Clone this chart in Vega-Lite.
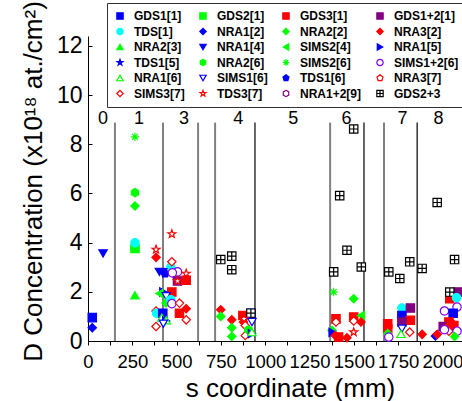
{
  "$schema": "https://vega.github.io/schema/vega-lite/v6.json",
  "width": 374,
  "height": 305,
  "autosize": "none",
  "padding": {"left": 88, "top": 36, "right": 0, "bottom": 60},
  "config": {
    "view": {"stroke": null},
    "font": "Liberation Sans",
    "axis": {"grid": false, "domainColor": "black", "tickColor": "black", "labelColor": "black", "titleColor": "black", "labelFont": "Liberation Sans", "titleFont": "Liberation Sans", "titleFontWeight": "normal"}
  },
  "encoding": {
    "x": {
      "field": "s", "type": "quantitative",
      "scale": {"domain": [0, 2110], "nice": false, "zero": false},
      "axis": {
        "title": "s coordinate (mm)", "titleFontSize": 26, "titleX": 202, "titleY": 47, "titleBaseline": "middle",
        "values": [0,125,250,375,500,625,750,875,1000,1125,1250,1375,1500,1625,1750,1875,2000],
        "labelExpr": "datum.value % 250 === 0 ? datum.label : ''",
        "format": "d", "labelFontSize": 18.5, "labelPadding": 7, "tickSize": 4, "labelFlush": false, "labelOverlap": false
      }
    }
  },
  "layer": [
    {
      "data": {"values": [
        {"s": 152, "k": "g"}, {"s": 423, "k": "g"}, {"s": 621, "k": "g"}, {"s": 717, "k": "g"},
        {"s": 942, "k": "b"}, {"s": 1366, "k": "g"}, {"s": 1557, "k": "b"}, {"s": 1670, "k": "g"}, {"s": 1857, "k": "b"}
      ]},
      "mark": {"type": "rule"},
      "encoding": {
        "y": {"datum": 0, "type": "quantitative"},
        "y2": {"datum": 8.88},
        "color": {"field": "k", "type": "nominal", "scale": {"domain": ["g", "b"], "range": ["#808080", "#000000"]}, "legend": null},
        "strokeWidth": {"field": "k", "type": "nominal", "scale": {"domain": ["g", "b"], "range": [2, 1.2]}, "legend": null}
      }
    },
    {
      "data": {"values": [
        {"z": "0", "s": 85}, {"z": "1", "s": 288}, {"z": "3", "s": 542}, {"z": "4", "s": 847},
        {"z": "5", "s": 1158}, {"z": "6", "s": 1458}, {"z": "7", "s": 1774}, {"z": "8", "s": 1977}
      ]},
      "mark": {"type": "text", "fontSize": 18, "font": "Liberation Sans", "color": "black", "baseline": "middle", "align": "center"},
      "encoding": {
        "y": {"datum": 9.04, "type": "quantitative"},
        "text": {"field": "z"}
      }
    },
    {
      "data": {"values": [
        {"s": 24, "D": 0.95, "series": "GDS1[1]"},
        {"s": 24, "D": 0.54, "series": "NRA1[2]"},
        {"s": 85, "D": 3.56, "series": "NRA1[4]"},
        {"s": 265, "D": 8.3, "series": "SIMS2[6]"},
        {"s": 265, "D": 6.03, "series": "NRA2[6]"},
        {"s": 265, "D": 5.49, "series": "NRA2[2]"},
        {"s": 265, "D": 3.76, "series": "GDS2[1]"},
        {"s": 265, "D": 3.99, "series": "TDS[1]"},
        {"s": 265, "D": 1.86, "series": "NRA2[3]"},
        {"s": 384, "D": 3.72, "series": "TDS3[7]"},
        {"s": 384, "D": 3.40, "series": "NRA3[2]"},
        {"s": 473, "D": 4.35, "series": "TDS3[7]"},
        {"s": 467, "D": 3.0, "series": "TDS[1]"},
        {"s": 473, "D": 3.22, "series": "SIMS3[7]"},
        {"s": 403, "D": 2.81, "series": "NRA1[4]"},
        {"s": 422, "D": 2.8, "series": "NRA1[4]"},
        {"s": 435, "D": 2.74, "series": "TDS1[6]"},
        {"s": 505, "D": 2.81, "series": "SIMS1+2[6]"},
        {"s": 476, "D": 2.77, "series": "SIMS1+2[6]"},
        {"s": 554, "D": 2.74, "series": "TDS3[7]"},
        {"s": 505, "D": 2.44, "series": "GDS1+2[1]"},
        {"s": 505, "D": 2.44, "series": "TDS3[7]"},
        {"s": 554, "D": 2.47, "series": "GDS3[1]"},
        {"s": 473, "D": 1.99, "series": "GDS3[1]"},
        {"s": 425, "D": 1.99, "series": "NRA1[5]"},
        {"s": 403, "D": 1.93, "series": "SIMS2[4]"},
        {"s": 441, "D": 1.82, "series": "SIMS1[6]"},
        {"s": 440, "D": 1.55, "series": "NRA2[2]"},
        {"s": 467, "D": 1.68, "series": "TDS[1]"},
        {"s": 473, "D": 1.52, "series": "SIMS1+2[6]"},
        {"s": 516, "D": 1.54, "series": "SIMS3[7]"},
        {"s": 554, "D": 1.31, "series": "NRA3[2]"},
        {"s": 516, "D": 1.13, "series": "GDS3[1]"},
        {"s": 384, "D": 1.22, "series": "SIMS3[7]"},
        {"s": 387, "D": 1.13, "series": "TDS[1]"},
        {"s": 422, "D": 1.13, "series": "GDS1[1]"},
        {"s": 416, "D": 0.95, "series": "NRA1[6]"},
        {"s": 441, "D": 0.81, "series": "NRA1[5]"},
        {"s": 441, "D": 0.84, "series": "NRA1[6]"},
        {"s": 554, "D": 0.86, "series": "SIMS3[7]"},
        {"s": 384, "D": 0.59, "series": "SIMS3[7]"},
        {"s": 425, "D": 0.7, "series": "SIMS1[6]"},
        {"s": 749, "D": 3.31, "series": "GDS2+3"},
        {"s": 811, "D": 3.45, "series": "GDS2+3"},
        {"s": 811, "D": 2.9, "series": "GDS2+3"},
        {"s": 749, "D": 1.27, "series": "NRA3[2]"},
        {"s": 749, "D": 1.0, "series": "NRA2[2]"},
        {"s": 811, "D": 0.86, "series": "NRA3[2]"},
        {"s": 811, "D": 0.54, "series": "NRA2[2]"},
        {"s": 811, "D": 0.18, "series": "NRA2[2]"},
        {"s": 874, "D": 1.04, "series": "GDS3[1]"},
        {"s": 919, "D": 1.13, "series": "GDS1[1]"},
        {"s": 919, "D": 1.13, "series": "GDS2+3"},
        {"s": 877, "D": 0.77, "series": "NRA3[2]"},
        {"s": 880, "D": 0.9, "series": "TDS3[7]"},
        {"s": 887, "D": 0.63, "series": "SIMS3[7]"},
        {"s": 887, "D": 0.22, "series": "SIMS3[7]"},
        {"s": 925, "D": 0.77, "series": "SIMS1[6]"},
        {"s": 905, "D": 0.45, "series": "NRA2[6]"},
        {"s": 925, "D": 0.3, "series": "NRA1[5]"},
        {"s": 925, "D": 0.36, "series": "NRA1[6]"},
        {"s": 1386, "D": 2.81, "series": "GDS2+3"},
        {"s": 1420, "D": 5.91, "series": "GDS2+3"},
        {"s": 1461, "D": 3.69, "series": "GDS2+3"},
        {"s": 1499, "D": 8.62, "series": "GDS2+3"},
        {"s": 1542, "D": 3.01, "series": "GDS2+3"},
        {"s": 1386, "D": 1.99, "series": "SIMS2[6]"},
        {"s": 1499, "D": 1.72, "series": "NRA2[2]"},
        {"s": 1399, "D": 0.9, "series": "GDS3[1]"},
        {"s": 1399, "D": 0.77, "series": "SIMS3[7]"},
        {"s": 1499, "D": 0.97, "series": "GDS3[1]"},
        {"s": 1499, "D": 0.81, "series": "SIMS3[7]"},
        {"s": 1540, "D": 1.04, "series": "SIMS2[4]"},
        {"s": 1540, "D": 0.77, "series": "NRA3[2]"},
        {"s": 1499, "D": 0.36, "series": "TDS3[7]"},
        {"s": 1377, "D": 0.43, "series": "NRA2[2]"},
        {"s": 1380, "D": 0.35, "series": "NRA1[5]"},
        {"s": 1395, "D": 0.22, "series": "NRA3[2]"},
        {"s": 1414, "D": 0.16, "series": "GDS3[1]"},
        {"s": 1461, "D": 0.13, "series": "NRA3[2]"},
        {"s": 1697, "D": 2.81, "series": "GDS2+3"},
        {"s": 1759, "D": 2.54, "series": "GDS2+3"},
        {"s": 1815, "D": 3.22, "series": "GDS2+3"},
        {"s": 1885, "D": 2.95, "series": "GDS2+3"},
        {"s": 1771, "D": 1.34, "series": "TDS[1]"},
        {"s": 1819, "D": 1.34, "series": "GDS1+2[1]"},
        {"s": 1771, "D": 1.04, "series": "GDS1[1]"},
        {"s": 1771, "D": 0.9, "series": "TDS1[5]"},
        {"s": 1819, "D": 0.84, "series": "GDS3[1]"},
        {"s": 1771, "D": 0.77, "series": "GDS1+2[1]"},
        {"s": 1691, "D": 0.7, "series": "GDS3[1]"},
        {"s": 1691, "D": 0.5, "series": "GDS3[1]"},
        {"s": 1691, "D": 0.3, "series": "NRA2[2]"},
        {"s": 1697, "D": 0.16, "series": "SIMS1+2[6]"},
        {"s": 1771, "D": 0.5, "series": "SIMS1[6]"},
        {"s": 1766, "D": 0.29, "series": "NRA1[6]"},
        {"s": 1815, "D": 0.36, "series": "SIMS3[7]"},
        {"s": 1885, "D": 0.27, "series": "NRA3[2]"},
        {"s": 1960, "D": 0.2, "series": "NRA1[2]"},
        {"s": 1970, "D": 0.27, "series": "NRA3[2]"},
        {"s": 1970, "D": 5.63, "series": "GDS2+3"},
        {"s": 2068, "D": 3.31, "series": "GDS2+3"},
        {"s": 2087, "D": 1.99, "series": "GDS1+2[1]"},
        {"s": 2041, "D": 1.72, "series": "GDS3[1]"},
        {"s": 2041, "D": 1.99, "series": "GDS2+3"},
        {"s": 2079, "D": 1.76, "series": "TDS[1]"},
        {"s": 2082, "D": 1.38, "series": "SIMS1+2[6]"},
        {"s": 2011, "D": 1.22, "series": "SIMS1+2[6]"},
        {"s": 2060, "D": 1.13, "series": "GDS1[1]"},
        {"s": 2036, "D": 0.77, "series": "GDS3[1]"},
        {"s": 2060, "D": 0.7, "series": "NRA3[2]"},
        {"s": 2064, "D": 0.63, "series": "GDS3[1]"},
        {"s": 2004, "D": 0.59, "series": "GDS1+2[1]"},
        {"s": 2041, "D": 0.67, "series": "NRA3[2]"},
        {"s": 2036, "D": 0.4, "series": "SIMS3[7]"},
        {"s": 2011, "D": 0.46, "series": "SIMS1+2[6]"},
        {"s": 2082, "D": 0.4, "series": "SIMS1+2[6]"},
        {"s": 2068, "D": 0.18, "series": "NRA2[2]"}
      ]},
      "mark": {"type": "point", "filled": false, "opacity": 1, "size": 70, "strokeWidth": 1.2},
      "encoding": {
        "y": {
          "field": "D", "type": "quantitative",
          "scale": {"domain": [0, 12.4], "nice": false},
          "axis": {
            "title": "D Concentration (x10¹⁸ at./cm²)", "titleFontSize": 26, "titleX": -55, "titleY": 145, "titleBaseline": "middle", "titleAngle": -90,
            "values": [0,1,2,3,4,5,6,7,8,9,10,11,12],
            "labelExpr": "datum.value % 2 === 0 ? datum.label : ''",
            "labelFontSize": 23, "tickSize": -4, "labelPadding": 10, "labelOverlap": false, "labelFlush": false
          }
        },
        "shape": {"field": "series", "type": "nominal", "title": null, "scale": {
          "domain": ["GDS1[1]","GDS2[1]","GDS3[1]","GDS1+2[1]","TDS[1]","NRA1[2]","NRA2[2]","NRA3[2]","NRA2[3]","NRA1[4]","SIMS2[4]","NRA1[5]","TDS1[5]","NRA2[6]","SIMS2[6]","SIMS1+2[6]","NRA1[6]","SIMS1[6]","TDS1[6]","NRA3[7]","SIMS3[7]","TDS3[7]","NRA1+2[9]","GDS2+3"],
          "range": ["square","square","square","square","circle","diamond","diamond","diamond","triangle-up","triangle-down","triangle-left","triangle-right",
            "M0,-1L0.235,-0.324L0.951,-0.309L0.38,0.124L0.588,0.809L0,0.4L-0.588,0.809L-0.38,0.124L-0.951,-0.309L-0.235,-0.324Z",
            "M0,-1L0.866,-0.5L0.866,0.5L0,1L-0.866,0.5L-0.866,-0.5Z",
            "M-1,0L1,0M0,-1L0,1M-0.7,-0.7L0.7,0.7M-0.7,0.7L0.7,-0.7",
            "circle","triangle-up","triangle-down",
            "M0,-1L0.951,-0.309L0.588,0.809L-0.588,0.809L-0.951,-0.309Z",
            "M0,-1L0.951,-0.309L0.588,0.809L-0.588,0.809L-0.951,-0.309Z",
            "diamond",
            "M0,-1L0.235,-0.324L0.951,-0.309L0.38,0.124L0.588,0.809L0,0.4L-0.588,0.809L-0.38,0.124L-0.951,-0.309L-0.235,-0.324Z",
            "M0,-1L0.866,-0.5L0.866,0.5L0,1L-0.866,0.5L-0.866,-0.5Z",
            "M-1,-1L1,-1L1,1L-1,1ZM0,-1L0,1M-1,0L1,0"]
        },
          "legend": {"orient": "none", "direction": "horizontal", "legendX": 19, "legendY": -33, "columns": 4, "gridAlign": "each", "columnPadding": 12, "rowPadding": 3.5, "padding": 7,
            "symbolSize": 40, "symbolStrokeWidth": 1.2, "labelFontSize": 12, "labelFontWeight": "bold", "labelFont": "Liberation Sans", "labelColor": "black", "labelOffset": 8,
            "strokeColor": "#333333", "fillColor": "white", "labelLimit": 200}
        },
        "stroke": {"field": "series", "type": "nominal", "title": null, "scale": {
          "domain": ["GDS1[1]","GDS2[1]","GDS3[1]","GDS1+2[1]","TDS[1]","NRA1[2]","NRA2[2]","NRA3[2]","NRA2[3]","NRA1[4]","SIMS2[4]","NRA1[5]","TDS1[5]","NRA2[6]","SIMS2[6]","SIMS1+2[6]","NRA1[6]","SIMS1[6]","TDS1[6]","NRA3[7]","SIMS3[7]","TDS3[7]","NRA1+2[9]","GDS2+3"],
          "range": ["#0000FF","#00FF00","#FF0000","#800080","#00FFFF","#0000FF","#00FF00","#FF0000","#00FF00","#0000FF","#00FF00","#0000FF","#0000FF","#00FF00","#00FF00","#8000FF","#00FF00","#0000FF","#0000FF","#FF0000","#FF0000","#FF0000","#800080","#000000"]
        }},
        "fill": {"field": "series", "type": "nominal", "title": null, "scale": {
          "domain": ["GDS1[1]","GDS2[1]","GDS3[1]","GDS1+2[1]","TDS[1]","NRA1[2]","NRA2[2]","NRA3[2]","NRA2[3]","NRA1[4]","SIMS2[4]","NRA1[5]","TDS1[5]","NRA2[6]","SIMS2[6]","SIMS1+2[6]","NRA1[6]","SIMS1[6]","TDS1[6]","NRA3[7]","SIMS3[7]","TDS3[7]","NRA1+2[9]","GDS2+3"],
          "range": ["#0000FF","#00FF00","#FF0000","#800080","#00FFFF","#0000FF","#00FF00","#FF0000","#00FF00","#0000FF","#00FF00","#0000FF","#0000FF","#00FF00","transparent","#FFFFFF","#FFFFFF","#FFFFFF","#0000FF","#FFFFFF","#FFFFFF","#FFFFFF","#FFFFFF","#FFFFFF"]
        }}
      }
    }
  ]
}
